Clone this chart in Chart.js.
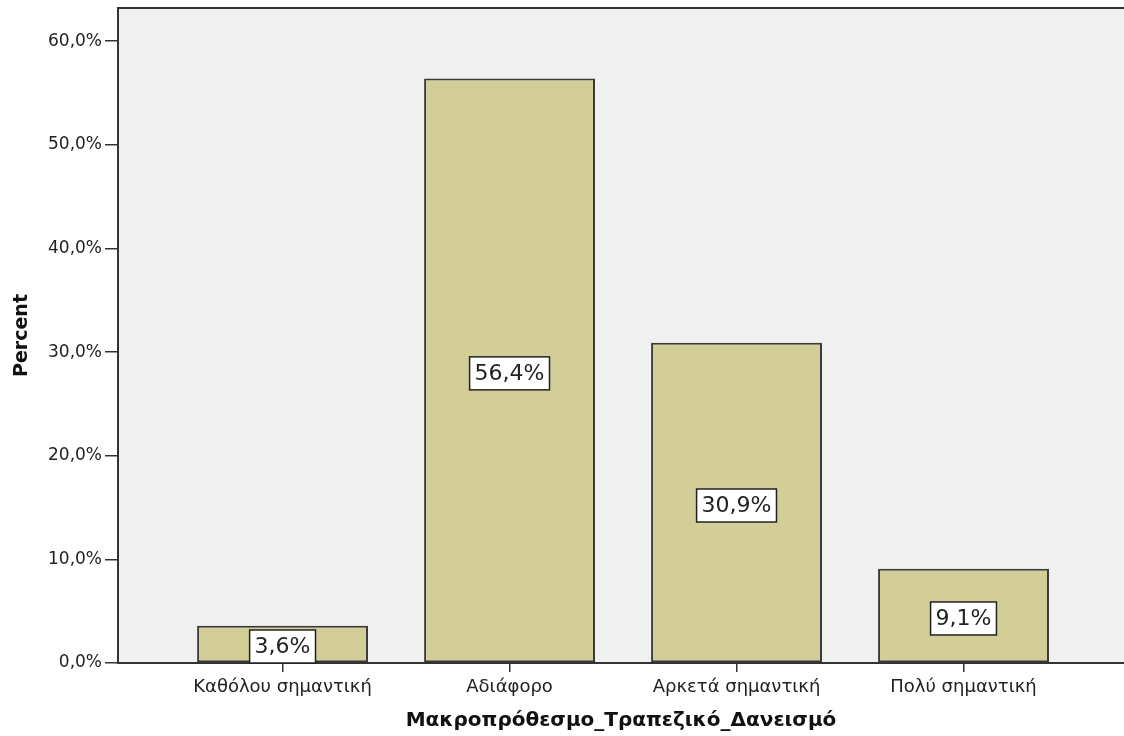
<!DOCTYPE html>
<html>
<head>
<meta charset="utf-8">
<script src="https://cdn.jsdelivr.net/npm/chart.js@4.4.1/dist/chart.umd.min.js"></script>
<style>
  body { margin: 0; background: #fff; }
  canvas { display: block; }
</style>
</head>
<body>
<canvas id="myChart" width="1124" height="736"></canvas>
<script>
var categories = ['Καθόλου σημαντική', 'Αδιάφορο', 'Αρκετά σημαντική', 'Πολύ σημαντική'];
var percents = [3.6, 56.4, 30.9, 9.1];
var yTicks = [0, 10, 20, 30, 40, 50, 60];

function fmt(v) {
    return v.toFixed(1).replace('.', ',') + '%';
}

// Plot background and top frame line
var framePlugin = {
    id: 'frame',
    beforeDraw: function (chart) {
        var a = chart.chartArea, c = chart.ctx;
        c.save();
        c.fillStyle = '#f0f0f0';
        c.fillRect(a.left, a.top, a.right - a.left, a.bottom - a.top);
        c.strokeStyle = '#333';
        c.lineWidth = 2;
        c.beginPath();
        c.moveTo(a.left, a.top);
        c.lineTo(a.right, a.top);
        c.stroke();
        c.restore();
    }
};

// Boxed value labels in the middle of each bar
var boxLabels = {
    id: 'boxLabels',
    afterDatasetsDraw: function (chart) {
        var c = chart.ctx;
        var meta = chart.getDatasetMeta(0);
        c.save();
        c.font = '22px "DejaVu Sans"';
        c.textAlign = 'center';
        c.textBaseline = 'middle';
        meta.data.forEach(function (bar, i) {
            var txt = fmt(percents[i]);
            var w = c.measureText(txt).width + 10;
            var h = 33;
            var cy = (bar.y + bar.base) / 2 + 3;
            var bottom = chart.chartArea.bottom;
            if (cy + h / 2 > bottom) cy = bottom - h / 2;
            c.fillStyle = '#fff';
            c.fillRect(bar.x - w / 2, cy - h / 2, w, h);
            c.strokeStyle = '#222';
            c.lineWidth = 1.5;
            c.strokeRect(bar.x - w / 2, cy - h / 2, w, h);
            c.fillStyle = '#222';
            c.fillText(txt, bar.x, cy + 1);
        });
        c.restore();
    }
};

var ctx = document.getElementById('myChart').getContext('2d');

var myChart = new Chart(ctx, {
    type: 'bar',
    data: {
        datasets: [{
            data: percents.map(function (v, i) { return { x: i, y: v }; }),
            backgroundColor: '#d3ce97',
            borderColor: '#3a3a3a',
            borderWidth: 2,
            borderSkipped: false,
            barPercentage: 0.753,
            categoryPercentage: 1
        }]
    },
    options: {
        responsive: false,
        animation: false,
        devicePixelRatio: 1,
        layout: { padding: { top: 8, right: 0, left: 0, bottom: 0 } },
        plugins: {
            legend: { display: false },
            tooltip: { enabled: false }
        },
        scales: {
            x: {
                type: 'linear',
                offset: false,
                min: -0.725,
                max: 3.707,
                afterBuildTicks: function (s) {
                    s.ticks = categories.map(function (_, i) { return { value: i }; });
                },
                afterFit: function (s) {
                    s.height = 73;
                    s.paddingLeft = 0;
                    s.paddingRight = 0;
                },
                grid: { offset: false, drawOnChartArea: false, tickLength: 9, color: '#333', lineWidth: 1.5 },
                border: { color: '#333', width: 2 },
                ticks: {
                    autoSkip: false,
                    maxRotation: 0,
                    padding: 5,
                    color: '#222',
                    font: { family: 'DejaVu Sans', size: 18 },
                    callback: function (v) { return categories[v] || ''; }
                },
                title: {
                    display: true,
                    text: 'Μακροπρόθεσμο_Τραπεζικό_Δανεισμό',
                    color: '#111',
                    font: { family: 'DejaVu Sans', size: 20, weight: 'bold' },
                    padding: { top: 0, bottom: 3 }
                }
            },
            y: {
                min: 0,
                max: 63.2,
                afterBuildTicks: function (s) {
                    s.ticks = yTicks.map(function (v) { return { value: v }; });
                },
                afterFit: function (s) {
                    s.width = 118;
                    s.paddingTop = 0;
                    s.paddingBottom = 0;
                },
                grid: { drawOnChartArea: false, tickLength: 13, color: '#333', lineWidth: 1.5 },
                border: { color: '#333', width: 2 },
                ticks: {
                    padding: 3,
                    color: '#222',
                    font: { family: 'DejaVu Sans', size: 17 },
                    callback: function (v) { return fmt(v); }
                },
                title: {
                    display: true,
                    text: 'Percent',
                    color: '#111',
                    font: { family: 'DejaVu Sans', size: 19, weight: 'bold' },
                    padding: { top: 11, bottom: 0 }
                }
            }
        }
    },
    plugins: [framePlugin, boxLabels]
});
</script>
</body>
</html>
